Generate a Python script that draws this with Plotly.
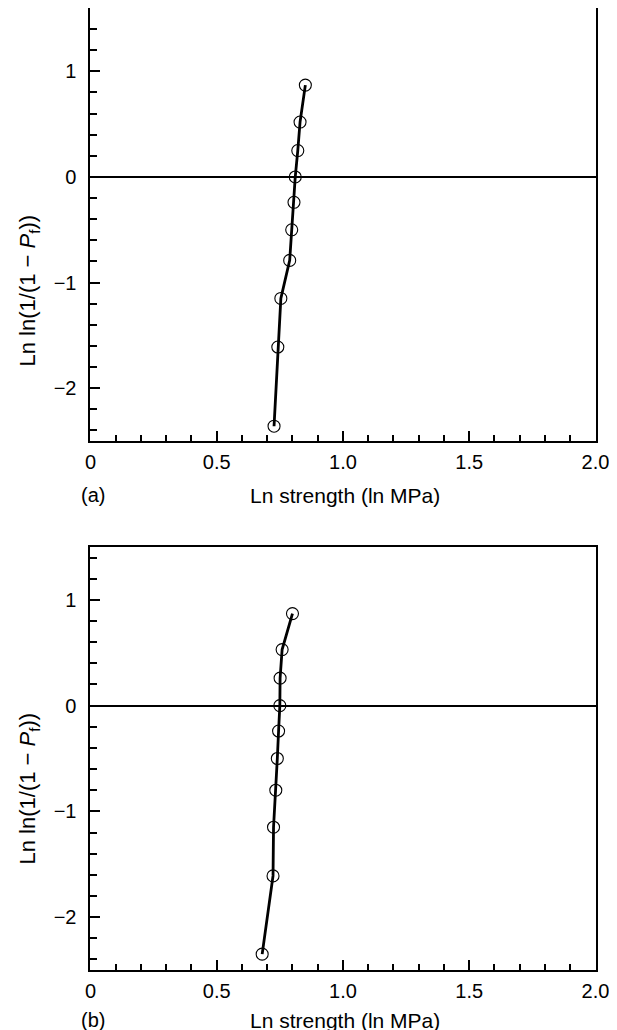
import plotly.graph_objects as go

# ---- data ----
# panel (a)
strength_a = [0.727, 0.742, 0.754, 0.789, 0.797, 0.806, 0.811, 0.821, 0.830, 0.851]
lnln_a = [-2.36, -1.61, -1.15, -0.79, -0.50, -0.24, 0.0, 0.25, 0.52, 0.87]
# panel (b)
strength_b = [0.680, 0.723, 0.725, 0.734, 0.740, 0.745, 0.750, 0.751, 0.759, 0.800]
lnln_b = [-2.35, -1.61, -1.15, -0.80, -0.50, -0.24, 0.0, 0.26, 0.53, 0.87]

x_tickvals = [0, 0.5, 1.0, 1.5, 2.0]
x_ticktext = ["0", "0.5", "1.0", "1.5", "2.0"]
y_tickvals = [-2, -1, 0, 1]
y_ticktext = ["\u22122", "\u22121", "0", "1"]

W, H = 617, 1030
FONT = "Liberation Sans, Arial, sans-serif"

fig = go.Figure()

for s, v, ax in [(strength_a, lnln_a, ("x", "y")), (strength_b, lnln_b, ("x2", "y2"))]:
    fig.add_trace(go.Scatter(
        x=s, y=v, xaxis=ax[0], yaxis=ax[1], mode="lines+markers",
        line=dict(color="black", width=2.8),
        marker=dict(symbol="circle-open", size=12, color="black", line=dict(width=1.1)),
        showlegend=False, cliponaxis=False,
    ))

def xaxis_style(anchor, mirror):
    return dict(
        anchor=anchor, domain=[79 / W, 601 / W], range=[0, 2.0],
        showline=True, linecolor="black", linewidth=2, mirror=mirror,
        showgrid=False, zeroline=False,
        tickmode="array", tickvals=x_tickvals, ticktext=x_ticktext,
        ticks="inside", ticklen=10, tickwidth=1.5, tickcolor="black",
        minor=dict(dtick=0.1, tick0=0, ticks="inside", ticklen=6, tickwidth=1.5, tickcolor="black"),
        tickfont=dict(family=FONT, size=20, color="black"),
        ticklabelstandoff=2,
    )

def yaxis_style(anchor, dom, rng):
    return dict(
        anchor=anchor, domain=dom, range=rng,
        showline=True, linecolor="black", linewidth=2, mirror=True,
        showgrid=False, zeroline=True, zerolinecolor="black", zerolinewidth=1.5,
        tickmode="array", tickvals=y_tickvals, ticktext=y_ticktext,
        ticks="inside", ticklen=10, tickwidth=1.5, tickcolor="black",
        minor=dict(dtick=0.2, tick0=0, ticks="inside", ticklen=7, tickwidth=1.5, tickcolor="black"),
        tickfont=dict(family=FONT, size=20, color="black"),
        ticklabelstandoff=8,
    )

fig.update_layout(
    width=W, height=H,
    margin=dict(l=0, r=0, t=0, b=0),
    paper_bgcolor="white", plot_bgcolor="white",
    xaxis=xaxis_style("y", False),
    yaxis=yaxis_style("x", [1 - 433 / H, 1.0], [-2.5, 1.6]),
    xaxis2=xaxis_style("y2", True),
    yaxis2=yaxis_style("x2", [1 - 962 / H, 1 - 539 / H], [-2.5, 1.5]),
)

ytitle = "Ln ln(1/(1 \u2212 <i>P</i><sub>f</sub>))"
xtitle = "Ln strength (ln MPa)"

def px(xp, yp):
    return xp / W, 1 - yp / H

annos = []
for (yt, xt_y, lab) in [(282, 487, "(a)"), (780, 1012, "(b)")]:
    ax_, ay_ = px(16, yt)
    annos.append(dict(x=ax_, y=ay_, xref="paper", yref="paper", text=ytitle, textangle=-90,
                      showarrow=False, xanchor="center", yanchor="middle",
                      font=dict(family=FONT, size=22, color="black")))
    bx, by = px(342, xt_y)
    annos.append(dict(x=bx, y=by, xref="paper", yref="paper", text=xtitle,
                      showarrow=False, xanchor="center", yanchor="middle",
                      font=dict(family=FONT, size=21, color="black")))
    cx, cy = px(82, xt_y)
    annos.append(dict(x=cx, y=cy, xref="paper", yref="paper", text=lab,
                      showarrow=False, xanchor="center", yanchor="middle",
                      font=dict(family=FONT, size=20, color="black")))
fig.update_layout(annotations=annos)

fig.write_html("out.html")
